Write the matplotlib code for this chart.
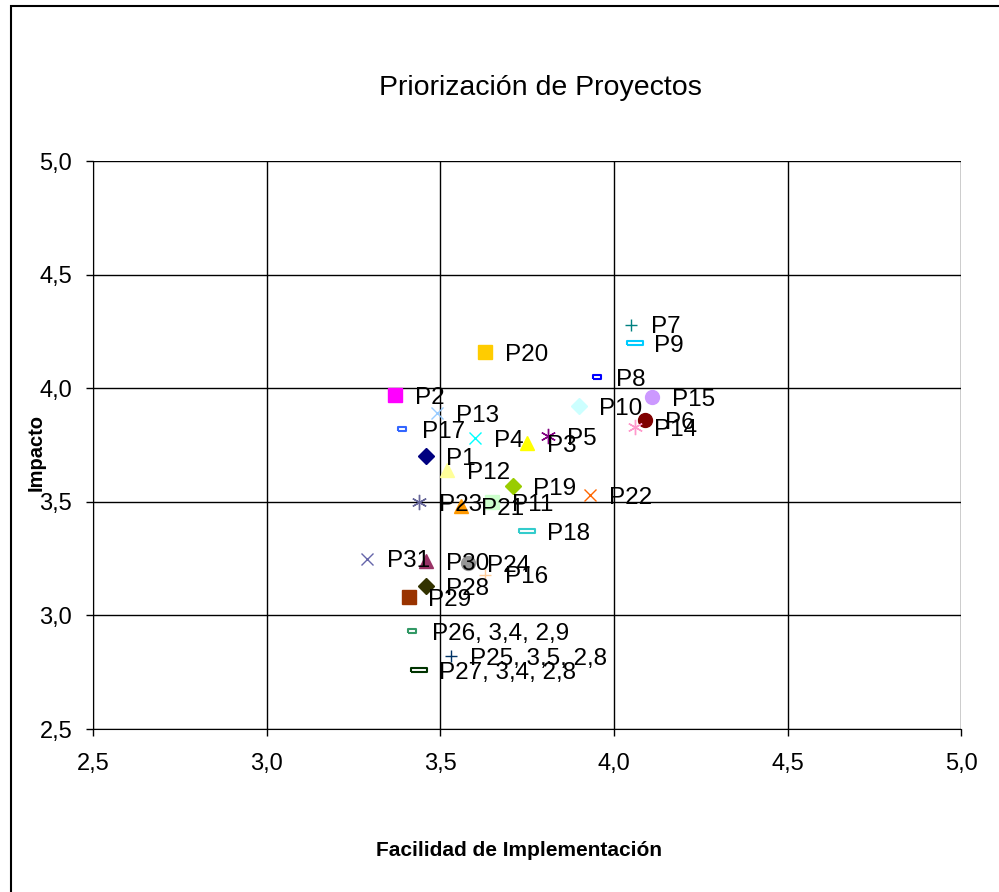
import matplotlib.pyplot as plt
from matplotlib.patches import Rectangle
from matplotlib.ticker import FuncFormatter

plt.rcParams['font.family'] = ['Liberation Sans', 'DejaVu Sans']

# data
labels = ['P1', 'P2', 'P3', 'P4', 'P5', 'P6', 'P7', 'P8', 'P9', 'P10',
          'P11', 'P12', 'P13', 'P14', 'P15', 'P16', 'P17', 'P18', 'P19', 'P20',
          'P21', 'P22', 'P23', 'P24', 'P25, 3,5, 2,8', 'P26, 3,4, 2,9', 'P27, 3,4, 2,8',
          'P28', 'P29', 'P30', 'P31']
facilidad = [3.46, 3.37, 3.75, 3.60, 3.81, 4.09, 4.05, 3.95, 4.06, 3.90,
             3.65, 3.52, 3.49, 4.06, 4.11, 3.63, 3.39, 3.75, 3.71, 3.63,
             3.56, 3.93, 3.44, 3.58, 3.53, 3.42, 3.44,
             3.46, 3.41, 3.46, 3.29]
impacto = [3.70, 3.97, 3.76, 3.78, 3.79, 3.86, 4.28, 4.05, 4.20, 3.92,
           3.50, 3.64, 3.89, 3.83, 3.96, 3.18, 3.82, 3.37, 3.57, 4.16,
           3.48, 3.53, 3.50, 3.23, 2.82, 2.93, 2.76,
           3.13, 3.08, 3.24, 3.25]

# excel style series markers
short_dash = [(-1, -0.45), (1, -0.45), (1, 0.45), (-1, 0.45), (-1, -0.45)]
long_dash = [(-1, -0.22), (1, -0.22), (1, 0.22), (-1, 0.22), (-1, -0.22)]
colors = ['#000080', '#FF00FF', '#FFFF00', '#00FFFF', '#800080', '#800000', '#008080', '#0000FF',
          '#00CCFF', '#CCFFFF', '#CCFFCC', '#FFFF99', '#99CCFF', '#FF99CC', '#CC99FF', '#FFCC99',
          '#3366FF', '#33CCCC', '#99CC00', '#FFCC00', '#FF9900', '#FF6600', '#666699', '#969696',
          '#003366', '#339966', '#003300', '#333300', '#993300', '#993366', '#6666AA']
markers = ['D', 's', '^', 'x', '*', 'o', '+', 'sd', 'ld',
           'D', 's', '^', 'x', '*', 'o', '+', 'sd', 'ld',
           'D', 's', '^', 'x', '*', 'o', '+', 'sd', 'ld',
           'D', 's', '^', 'x']

fig = plt.figure(figsize=(9.99, 8.92), dpi=100)
ax = fig.add_axes([0.0931, 0.1827, 0.869, 0.6368])

for i in range(len(labels)):
    m = markers[i]
    c = colors[i]
    if m == 'sd':
        ax.plot(facilidad[i], impacto[i], marker=short_dash, ms=6, mfc='white', mec=c, mew=1.5, ls='none')
    elif m == 'ld':
        ax.plot(facilidad[i], impacto[i], marker=long_dash, ms=11, mfc='white', mec=c, mew=1.5, ls='none')
    elif m == '*':
        ax.plot(facilidad[i], impacto[i], marker=(6, 2, 0), ms=11, mec=c, mew=1, ls='none')
    elif m in ('x', '+'):
        ax.plot(facilidad[i], impacto[i], marker=m, ms=9, mec=c, mew=1, ls='none')
    elif m == 'D':
        ax.plot(facilidad[i], impacto[i], marker=m, ms=8, color=c, ls='none')
    else:
        ax.plot(facilidad[i], impacto[i], marker=m, ms=10, color=c, ls='none')
    ax.annotate(labels[i], (facilidad[i], impacto[i]), xytext=(14, -2), textcoords='offset points',
                fontsize=17.5, va='center', ha='left')

ax.set_xlim(2.5, 5.0)
ax.set_ylim(2.5, 5.0)
ax.set_xticks([2.5, 3.0, 3.5, 4.0, 4.5, 5.0])
ax.set_yticks([2.5, 3.0, 3.5, 4.0, 4.5, 5.0])
fmt = FuncFormatter(lambda v, p: f'{v:.1f}'.replace('.', ','))
ax.xaxis.set_major_formatter(fmt)
ax.yaxis.set_major_formatter(fmt)
ax.tick_params(labelsize=17, length=5, width=1, direction='out')
ax.tick_params(axis='y', pad=10)
ax.tick_params(axis='x', pad=12)
ax.grid(True, color='black', lw=1)
ax.set_axisbelow(True)
for s in ['top', 'right']:
    ax.spines[s].set_visible(False)

fig.text(0.541, 0.901, 'Priorización de Proyectos', fontsize=20.5, ha='center', va='center')
fig.text(0.52, 0.047, 'Facilidad de Implementación', fontsize=15, fontweight='bold', ha='center', va='center')
fig.text(0.036, 0.493, 'Impacto', fontsize=14.5, fontweight='bold', rotation=90, ha='center', va='center')

fig.patches.append(Rectangle((11 / 999, -0.05), 1.1, 1 - 6 / 892 + 0.05, transform=fig.transFigure,
                             fill=False, ec='black', lw=1.5))

fig.savefig('out.png', dpi=100)
